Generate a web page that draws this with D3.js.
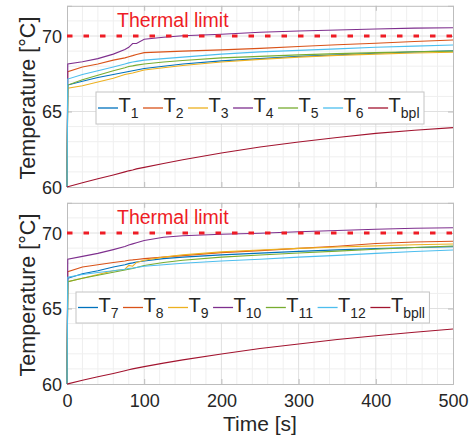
<!DOCTYPE html>
<html><head><meta charset="utf-8">
<script src="https://cdn.jsdelivr.net/npm/d3@7"></script>
<style>body{margin:0;background:#fff}svg{display:block;font-family:"Liberation Sans",Arial,sans-serif}</style>
</head><body><svg id="c" width="476" height="439"></svg>
<script>
const time = [0, 1, 20, 40, 60, 75, 80, 85, 90, 100, 125, 150, 200, 250, 300, 350, 400, 450, 500];
// Top panel
const T1 = [60, 66.75, 67.0, 67.25, 67.45, 67.6, 67.65, 67.7, 67.75, 67.85, 68.0, 68.15, 68.35, 68.5, 68.65, 68.75, 68.86, 68.95, 69.02];
const T2 = [60, 67.64, 67.95, 68.15, 68.4, 68.55, 68.63, 68.7, 68.78, 68.9, 68.95, 69.0, 69.08, 69.18, 69.3, 69.42, 69.52, 69.64, 69.74];
const T3 = [60, 66.54, 66.7, 66.95, 67.2, 67.45, 67.5, 67.55, 67.62, 67.75, 67.9, 68.05, 68.28, 68.45, 68.6, 68.72, 68.8, 68.87, 68.92];
const T4 = [60, 68.15, 68.3, 68.5, 68.8, 69.1, 69.25, 69.5, 69.5, 69.78, 69.92, 70.02, 70.12, 70.25, 70.33, 70.4, 70.46, 70.52, 70.55];
const T5 = [60, 66.75, 67.1, 67.4, 67.7, 67.9, 67.98, 68.02, 68.07, 68.15, 68.28, 68.38, 68.55, 68.65, 68.75, 68.83, 68.9, 68.96, 69.0];
const T6 = [60, 67.15, 67.45, 67.7, 67.95, 68.15, 68.22, 68.28, 68.32, 68.4, 68.5, 68.6, 68.8, 68.95, 69.05, 69.15, 69.25, 69.33, 69.4];
const Tbpl = [60, 60.02, 60.28, 60.55, 60.8, 61.0, 61.07, 61.13, 61.2, 61.3, 61.56, 61.8, 62.25, 62.65, 62.98, 63.28, 63.55, 63.76, 63.93];
// Bottom panel
const T7 = [60, 67.0, 67.3, 67.5, 67.75, 67.9, 67.97, 68.02, 68.08, 68.15, 68.3, 68.4, 68.55, 68.67, 68.78, 68.88, 68.97, 69.04, 69.09];
const T8 = [60, 67.44, 67.75, 67.9, 68.05, 68.15, 68.2, 68.22, 68.25, 68.3, 68.4, 68.5, 68.7, 68.83, 68.98, 69.12, 69.3, 69.4, 69.45];
const T9 = [60, 66.77, 67.0, 67.25, 67.5, 67.6, 67.85, 67.8, 68.05, 68.2, 68.4, 68.55, 68.75, 68.87, 68.98, 69.07, 69.15, 69.22, 69.27];
const T10 = [60, 68.26, 68.45, 68.65, 68.9, 69.1, 69.2, 69.28, 69.35, 69.5, 69.72, 69.82, 69.92, 69.98, 70.08, 70.17, 70.25, 70.31, 70.35];
const T11 = [60, 66.77, 67.0, 67.2, 67.4, 67.55, 67.6, 67.65, 67.72, 67.85, 68.05, 68.2, 68.4, 68.54, 68.68, 68.8, 68.92, 69.04, 69.14];
const T12 = [60, 67.07, 67.25, 67.38, 67.5, 67.6, 67.65, 67.68, 67.72, 67.8, 67.9, 68.0, 68.15, 68.26, 68.4, 68.52, 68.65, 68.77, 68.87];
const Tbpll = [60, 60.01, 60.25, 60.48, 60.7, 60.88, 60.94, 61.0, 61.05, 61.15, 61.38, 61.6, 61.99, 62.35, 62.65, 62.95, 63.2, 63.43, 63.64];

const colors = ["#0072BD", "#D95319", "#EDB120", "#7E2F8E", "#77AC30", "#4DBEEE", "#A2142F"];
const topNames = [["T","1"],["T","2"],["T","3"],["T","4"],["T","5"],["T","6"],["T","bpl"]];
const botNames = [["T","7"],["T","8"],["T","9"],["T","10"],["T","11"],["T","12"],["T","bpll"]];
const xTicks = [0, 100, 200, 300, 400, 500];
const yTicks = [60, 65, 70];
const thermalLimit = 70;
const limitLabel = "Thermal limit";
const yLabel = "Temperature [°C]";
const xLabel = "Time [s]";

const svg = d3.select("#c");
const x = d3.scaleLinear().domain([0, 500]).range([67, 453]);

function panel(yTop, yBot, series, names, legendX, legendY, legendH, labelCY, showX) {
  const y = d3.scaleLinear().domain([60, 72]).range([yBot, yTop]);
  const g = svg.append("g");
  // minor grid
  g.append("g").selectAll("line").data(d3.range(20, 500, 20).filter(v => v % 100 !== 0))
    .join("line").attr("x1", d => x(d)).attr("x2", d => x(d)).attr("y1", yTop).attr("y2", yBot)
    .attr("stroke", "#efefef").attr("stroke-width", 1);
  g.append("g").selectAll("line").data(d3.range(61, 72, 1).filter(v => v % 5 !== 0))
    .join("line").attr("y1", d => y(d)).attr("y2", d => y(d)).attr("x1", x(0)).attr("x2", x(500))
    .attr("stroke", "#efefef").attr("stroke-width", 1);
  // major grid
  g.append("g").selectAll("line").data(xTicks.slice(1, -1))
    .join("line").attr("x1", d => x(d)).attr("x2", d => x(d)).attr("y1", yTop).attr("y2", yBot)
    .attr("stroke", "#e0e0e0").attr("stroke-width", 1);
  g.append("g").selectAll("line").data(yTicks.slice(1))
    .join("line").attr("y1", d => y(d)).attr("y2", d => y(d)).attr("x1", x(0)).attr("x2", x(500))
    .attr("stroke", "#e0e0e0").attr("stroke-width", 1);
  // axes (inside ticks, mirrored)
  const axL = d3.axisLeft(y).tickValues(yTicks).tickSize(-5).tickPadding(10).tickFormat(d3.format("d"));
  const axR = d3.axisRight(y).tickValues(yTicks).tickSize(-5).tickFormat("");
  const axB = d3.axisBottom(x).tickValues(xTicks).tickSize(-5).tickPadding(10).tickFormat(d3.format("d"));
  const axT = d3.axisTop(x).tickValues(xTicks).tickSize(-5).tickFormat("");
  const gl = g.append("g").attr("transform", `translate(${x(0)},0)`).call(axL);
  const gr = g.append("g").attr("transform", `translate(${x(500)},0)`).call(axR);
  const gb = g.append("g").attr("transform", `translate(0,${yBot})`).call(axB);
  const gt = g.append("g").attr("transform", `translate(0,${yTop})`).call(axT);
  [gl, gr, gb, gt].forEach(a => {
    a.selectAll("path").attr("stroke", "#bdbdbd");
    a.selectAll("line").attr("stroke", "#bdbdbd");
    a.selectAll("text").attr("fill", "#262626").attr("font-size", 18).attr("font-family", "Liberation Sans, Arial, sans-serif");
  });
  gl.selectAll("text").attr("x", -5).attr("dy", "0.35em");
  if (showX) {
    gb.selectAll("text").attr("dy", "0.71em");
  } else {
    gb.selectAll("text").remove();
  }
  // data lines
  const line = d3.line().x((d, i) => x(time[i])).y(d => y(d));
  series.forEach((s, k) => {
    g.append("path").datum(s).attr("d", line).attr("fill", "none")
      .attr("stroke", colors[k]).attr("stroke-width", 1.1);
  });
  // thermal limit
  g.append("line").attr("x1", x(0)).attr("x2", x(500)).attr("y1", y(thermalLimit)).attr("y2", y(thermalLimit))
    .attr("stroke", "#ee1c25").attr("stroke-width", 3).attr("stroke-dasharray", "5.5,11");
  g.append("text").attr("x", 117).attr("y", y(thermalLimit) - 9).text(limitLabel)
    .attr("fill", "#ee1c25").attr("font-size", 19.5);
  // legend
  const lg = g.append("g");
  const box = lg.append("rect").attr("x", legendX).attr("y", legendY).attr("height", legendH)
    .attr("fill", "#fff").attr("stroke", "#c4c4c4").attr("stroke-width", 1);
  let cx = legendX + 2;
  const midY = legendY + legendH / 2;
  names.forEach((n, k) => {
    lg.append("line").attr("x1", cx).attr("x2", cx + 20).attr("y1", midY).attr("y2", midY)
      .attr("stroke", colors[k]).attr("stroke-width", 1.3);
    const t = lg.append("text").attr("x", cx + 20.5).attr("y", midY + 4).attr("fill", "#262626").attr("font-size", 20);
    t.append("tspan").text(n[0]);
    t.append("tspan").text(n[1]).attr("font-size", 14).attr("dy", 6);
    cx += 20.5 + t.node().getComputedTextLength() + 4.5;
  });
  box.attr("width", cx - legendX);
  // y label
  svg.append("text").attr("transform", `translate(35,${labelCY}) rotate(-90)`).attr("text-anchor", "middle")
    .attr("fill", "#262626").attr("font-size", 21.5).text(yLabel);
}

panel(5.8, 187, [T1, T2, T3, T4, T5, T6, Tbpl], topNames, 96, 92, 32, 98, false);
panel(202.8, 384, [T7, T8, T9, T10, T11, T12, Tbpll], botNames, 76, 292, 31, 295, true);

svg.append("text").attr("x", 260).attr("y", 431).attr("text-anchor", "middle")
  .attr("fill", "#262626").attr("font-size", 21).text(xLabel);
</script></body></html>
